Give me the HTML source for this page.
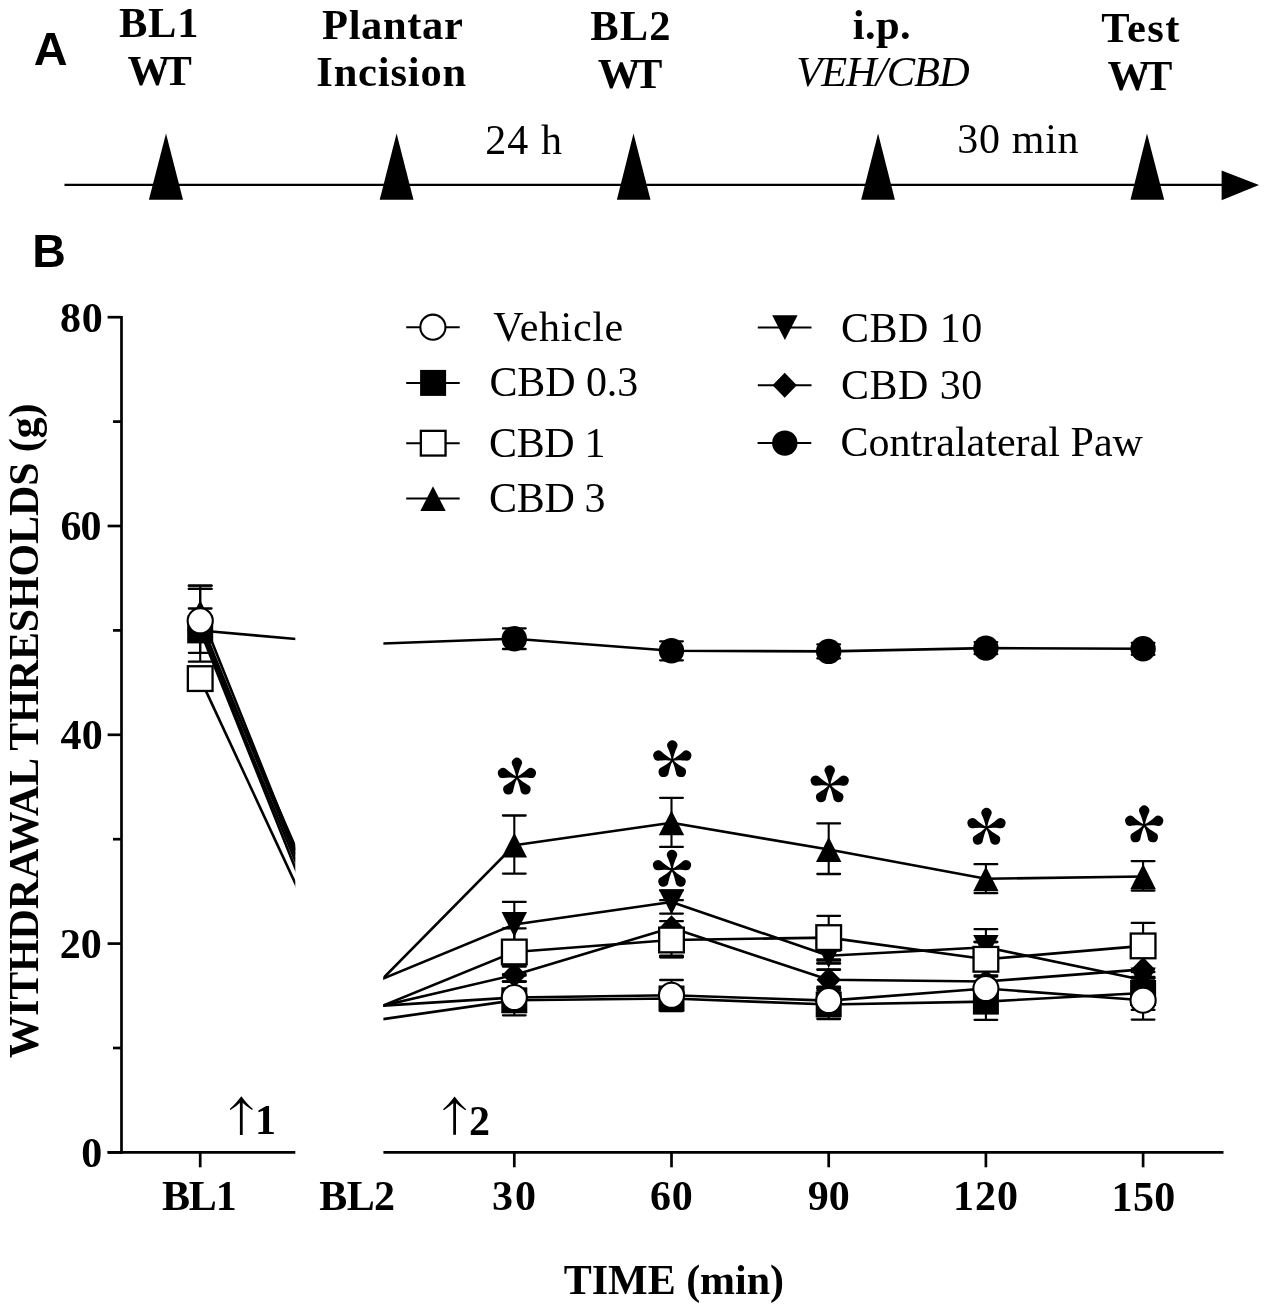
<!DOCTYPE html>
<html><head><meta charset="utf-8"><title>Figure</title>
<style>
html,body{margin:0;padding:0;background:#fff;}
body{width:1267px;height:1314px;overflow:hidden;font-family:"Liberation Serif",serif;}
svg{display:block;filter:grayscale(1) blur(0.4px);}
text{font-kerning:normal;}
</style></head><body>
<svg width="1267" height="1314" viewBox="0 0 1267 1314">
<rect width="100%" height="100%" fill="#fff"/>
<g>
<line x1="64.5" y1="184.9" x2="1224" y2="184.9" stroke="#000" stroke-width="2.4"/>
<path d="M1221.6 170.6L1259 185L1221.6 200.3Z" fill="#000"/>
<path d="M166 133.4L183 199.8L148.9 199.8Z" fill="#000"/>
<path d="M396.6 133.4L413.5 199.8L379.7 199.8Z" fill="#000"/>
<path d="M633.5 133.4L650.5 199.8L616.9 199.8Z" fill="#000"/>
<path d="M878.1 133.4L894.9 199.8L861.2 199.8Z" fill="#000"/>
<path d="M1147 133.4L1164.2 199.8L1130.5 199.8Z" fill="#000"/>
</g>
<text id="t_A" x="33.64" y="65.32" text-anchor="start" style="font-family:'Liberation Sans',serif;font-size:46.8px;font-weight:bold;font-style:normal">A</text>
<text id="t_B" x="32.28" y="267.02" text-anchor="start" style="font-family:'Liberation Sans',serif;font-size:46.5px;font-weight:bold;font-style:normal">B</text>
<text id="t_hBL1" x="118.97" y="37.34" text-anchor="start" style="font-family:'Liberation Serif',serif;font-size:42.5px;font-weight:bold;font-style:normal" textLength="79.43" lengthAdjust="spacing">BL1</text>
<text id="t_hWT1" x="127.56" y="84.89" text-anchor="start" style="font-family:'Liberation Serif',serif;font-size:42.5px;font-weight:bold;font-style:normal" textLength="64.42" lengthAdjust="spacing">WT</text>
<text id="t_hPlantar" x="322.04" y="38.68" text-anchor="start" style="font-family:'Liberation Serif',serif;font-size:42.5px;font-weight:bold;font-style:normal" textLength="140.8" lengthAdjust="spacing">Plantar</text>
<text id="t_hIncision" x="316.3" y="86" text-anchor="start" style="font-family:'Liberation Serif',serif;font-size:42.5px;font-weight:bold;font-style:normal" textLength="149.79" lengthAdjust="spacing">Incision</text>
<text id="t_hBL2" x="590.23" y="39.64" text-anchor="start" style="font-family:'Liberation Serif',serif;font-size:42.5px;font-weight:bold;font-style:normal" textLength="80.23" lengthAdjust="spacing">BL2</text>
<text id="t_hWT2" x="597.81" y="87.89" text-anchor="start" style="font-family:'Liberation Serif',serif;font-size:42.5px;font-weight:bold;font-style:normal" textLength="64.58" lengthAdjust="spacing">WT</text>
<text id="t_hip" x="852.83" y="38.56" text-anchor="start" style="font-family:'Liberation Serif',serif;font-size:42.5px;font-weight:bold;font-style:normal" textLength="57.67" lengthAdjust="spacing">i.p.</text>
<text id="t_hVEH" x="796.16" y="86.19" text-anchor="start" style="font-family:'Liberation Serif',serif;font-size:42.5px;font-weight:normal;font-style:italic" textLength="173.52" lengthAdjust="spacing">VEH/CBD</text>
<text id="t_hTest" x="1101.22" y="42.02" text-anchor="start" style="font-family:'Liberation Serif',serif;font-size:42.5px;font-weight:bold;font-style:normal" textLength="78.15" lengthAdjust="spacing">Test</text>
<text id="t_hWT3" x="1107.55" y="89.57" text-anchor="start" style="font-family:'Liberation Serif',serif;font-size:42.5px;font-weight:bold;font-style:normal" textLength="64.71" lengthAdjust="spacing">WT</text>
<text id="t_h24" x="485.14" y="153.68" text-anchor="start" style="font-family:'Liberation Serif',serif;font-size:42px;font-weight:normal;font-style:normal" textLength="76.87" lengthAdjust="spacing">24 h</text>
<text id="t_h30" x="957.36" y="152.64" text-anchor="start" style="font-family:'Liberation Serif',serif;font-size:42px;font-weight:normal;font-style:normal" textLength="121.14" lengthAdjust="spacing">30 min</text>
<g stroke="#000" fill="none" stroke-width="2.7">
<line x1="121.5" y1="316" x2="121.5" y2="1153.7"/>
<line x1="107.6" y1="1152.4" x2="121.5" y2="1152.4"/>
<line x1="107.6" y1="943.6" x2="121.5" y2="943.6"/>
<line x1="107.6" y1="734.8" x2="121.5" y2="734.8"/>
<line x1="107.6" y1="526" x2="121.5" y2="526"/>
<line x1="107.6" y1="317.2" x2="121.5" y2="317.2"/>
<line x1="113" y1="1048" x2="121.5" y2="1048"/>
<line x1="113" y1="839.2" x2="121.5" y2="839.2"/>
<line x1="113" y1="630.4" x2="121.5" y2="630.4"/>
<line x1="113" y1="421.6" x2="121.5" y2="421.6"/>
<line x1="107.6" y1="1152.4" x2="295.3" y2="1152.4"/>
<line x1="383.4" y1="1152.4" x2="1223.5" y2="1152.4"/>
<line x1="200.2" y1="1152.4" x2="200.2" y2="1167.3"/>
<line x1="514.3" y1="1152.4" x2="514.3" y2="1167.3"/>
<line x1="671.5" y1="1152.4" x2="671.5" y2="1167.3"/>
<line x1="828.7" y1="1152.4" x2="828.7" y2="1167.3"/>
<line x1="985.9" y1="1152.4" x2="985.9" y2="1167.3"/>
<line x1="1143.1" y1="1152.4" x2="1143.1" y2="1167.3"/>
</g>
<text id="t_y80" x="102.72" y="331.64" text-anchor="end" style="font-family:'Liberation Serif',serif;font-size:42px;font-weight:bold;font-style:normal" textLength="42.81" lengthAdjust="spacing">80</text>
<text id="t_y60" x="101.44" y="539.52" text-anchor="end" style="font-family:'Liberation Serif',serif;font-size:42px;font-weight:bold;font-style:normal" textLength="41.06" lengthAdjust="spacing">60</text>
<text id="t_y40" x="102.63" y="748.52" text-anchor="end" style="font-family:'Liberation Serif',serif;font-size:42px;font-weight:bold;font-style:normal" textLength="42.09" lengthAdjust="spacing">40</text>
<text id="t_y20" x="101.76" y="958.28" text-anchor="end" style="font-family:'Liberation Serif',serif;font-size:42px;font-weight:bold;font-style:normal">20</text>
<text id="t_y0" x="102.22" y="1166.56" text-anchor="end" style="font-family:'Liberation Serif',serif;font-size:42px;font-weight:bold;font-style:normal">0</text>
<text id="t_xBL1" x="199.34" y="1210.3" text-anchor="middle" style="font-family:'Liberation Serif',serif;font-size:42px;font-weight:bold;font-style:normal" textLength="74.58" lengthAdjust="spacing">BL1</text>
<text id="t_xBL2" x="357.18" y="1210.3" text-anchor="middle" style="font-family:'Liberation Serif',serif;font-size:42px;font-weight:bold;font-style:normal" textLength="75.77" lengthAdjust="spacing">BL2</text>
<text id="t_x30" x="514.04" y="1210.3" text-anchor="middle" style="font-family:'Liberation Serif',serif;font-size:42px;font-weight:bold;font-style:normal" textLength="43.88" lengthAdjust="spacing">30</text>
<text id="t_x60" x="671.35" y="1210.3" text-anchor="middle" style="font-family:'Liberation Serif',serif;font-size:42px;font-weight:bold;font-style:normal" textLength="42.91" lengthAdjust="spacing">60</text>
<text id="t_x90" x="828.65" y="1210.3" text-anchor="middle" style="font-family:'Liberation Serif',serif;font-size:42px;font-weight:bold;font-style:normal">90</text>
<text id="t_x120" x="985.52" y="1210.3" text-anchor="middle" style="font-family:'Liberation Serif',serif;font-size:42px;font-weight:bold;font-style:normal" textLength="64.87" lengthAdjust="spacing">120</text>
<text id="t_x150" x="1143.41" y="1210.58" text-anchor="middle" style="font-family:'Liberation Serif',serif;font-size:42px;font-weight:bold;font-style:normal" textLength="63.87" lengthAdjust="spacing">150</text>
<text id="t_xtitle" x="673.9" y="1294.37" text-anchor="middle" style="font-family:'Liberation Serif',serif;font-size:42px;font-weight:bold;font-style:normal" textLength="220.16" lengthAdjust="spacing">TIME (min)</text>
<text transform="translate(38 730.7) rotate(-90)" x="0" y="0" text-anchor="middle" style="font-family:'Liberation Serif',serif;font-size:42px;font-weight:bold" textLength="654.6" lengthAdjust="spacing">WITHDRAWAL THRESHOLDS (g)</text>
<g stroke="#000" fill="none"><line x1="241.3" y1="1099.3" x2="241.3" y2="1135" stroke-width="2.8"/></g><path d="M241.3 1096.3 C237.3 1101.3 233.3 1106.3 229.7 1108.9 L230.5 1109.9 C234.3 1107.8 238.3 1104.3 241.3 1101.8 C244.3 1104.3 248.3 1107.8 252.1 1109.9 L252.9 1108.9 C249.3 1106.3 245.3 1101.3 241.3 1096.3 Z" fill="#000"/>
<text id="t_n1" x="254.96" y="1134.32" text-anchor="start" style="font-family:'Liberation Serif',serif;font-size:42px;font-weight:bold;font-style:normal">1</text>
<g stroke="#000" fill="none"><line x1="454.6" y1="1099.6" x2="454.6" y2="1134.8" stroke-width="2.8"/></g><path d="M454.6 1096.6 C450.6 1101.6 446.6 1106.6 443 1109.2 L443.8 1110.2 C447.6 1108.1 451.6 1104.6 454.6 1102.1 C457.6 1104.6 461.6 1108.1 465.4 1110.2 L466.2 1109.2 C462.6 1106.6 458.6 1101.6 454.6 1096.6 Z" fill="#000"/>
<text id="t_n2" x="468.9" y="1134.64" text-anchor="start" style="font-family:'Liberation Serif',serif;font-size:42px;font-weight:bold;font-style:normal">2</text>
<defs><clipPath id="cl"><rect x="122" y="300" width="173.3" height="860"/></clipPath><clipPath id="cr"><rect x="383.4" y="300" width="860" height="860"/></clipPath></defs>
<path d="M660.15 900.2H682.85M660.15 955.7H682.85M660.15 957.3H682.85M817.35 960.7H840.05M817.35 963.4H840.05M817.35 969.8H840.05M817.35 986.7H840.05M817.35 988.5H840.05M502.95 966.4H525.65M502.95 974.2H525.65M502.95 981.6H525.65M974.55 942H997.25M1131.75 976.8H1154.45M1131.75 978.3H1154.45M1131.75 1009.9H1154.45M188.85 585.7H211.55M188.85 588.9H211.55" stroke="#000" stroke-width="2.3" stroke-linecap="round" fill="none"/>
<line x1="200.2" y1="630.5" x2="357.1" y2="644.4" stroke="#000" stroke-width="2.6" clip-path="url(#cl)"/>
<polyline points="357.1,644.4 514.3,638.7 671.5,650.8 828.7,651.4 985.9,648.1 1143.1,648.8" fill="none" stroke="#000" stroke-width="2.6" stroke-linejoin="round" clip-path="url(#cr)"/>
<path d="M200.2 608.5V661.7M514.3 628.4V649M671.5 641.3V660.3M828.7 644.4V658.4M985.9 642.1V654.1M1143.1 642.8V654.8" stroke="#000" stroke-width="2.1" fill="none"/>
<path d="M188.85 608.5H211.55M188.85 661.7H211.55M502.95 628.4H525.65M502.95 649H525.65M660.15 641.3H682.85M660.15 660.3H682.85M817.35 644.4H840.05M817.35 658.4H840.05M974.55 642.1H997.25M974.55 654.1H997.25M1131.75 642.8H1154.45M1131.75 654.8H1154.45" stroke="#000" stroke-width="2.3" stroke-linecap="round" fill="none"/>
<circle cx="200.2" cy="630.5" r="12.7" fill="#000"/>
<circle cx="514.3" cy="638.7" r="12.7" fill="#000"/>
<circle cx="671.5" cy="650.8" r="12.7" fill="#000"/>
<circle cx="828.7" cy="651.4" r="12.7" fill="#000"/>
<circle cx="985.9" cy="648.1" r="12.7" fill="#000"/>
<circle cx="1143.1" cy="648.8" r="12.7" fill="#000"/>
<line x1="200.2" y1="629" x2="357.1" y2="1011.6" stroke="#000" stroke-width="2.6" clip-path="url(#cl)"/>
<polyline points="357.1,1011.6 514.3,975 671.5,927.8 828.7,979.8 985.9,981.5 1143.1,969.4" fill="none" stroke="#000" stroke-width="2.6" stroke-linejoin="round" clip-path="url(#cr)"/>
<path d="M514.3 966.4V981.6M671.5 921.2V934.4M828.7 969.3V988.5M985.9 975.5V987.5M1143.1 969.4V978.3" stroke="#000" stroke-width="2.1" fill="none"/>
<path d="M502.95 966.4H525.65M502.95 981.6H525.65M660.15 921.2H682.85M660.15 934.4H682.85M817.35 969.3H840.05M817.35 988.5H840.05M974.55 975.5H997.25M974.55 987.5H997.25M1131.75 978.3H1154.45" stroke="#000" stroke-width="2.3" stroke-linecap="round" fill="none"/>
<path d="M200.2 616.5L212.35 629L200.2 641.5L188.05 629Z" fill="#000"/>
<path d="M514.3 962.5L526.45 975L514.3 987.5L502.15 975Z" fill="#000"/>
<path d="M671.5 915.3L683.65 927.8L671.5 940.3L659.35 927.8Z" fill="#000"/>
<path d="M828.7 967.3L840.85 979.8L828.7 992.3L816.55 979.8Z" fill="#000"/>
<path d="M985.9 969L998.05 981.5L985.9 994L973.75 981.5Z" fill="#000"/>
<path d="M1143.1 956.9L1155.25 969.4L1143.1 981.9L1130.95 969.4Z" fill="#000"/>
<line x1="200.2" y1="628" x2="357.1" y2="989.2" stroke="#000" stroke-width="2.6" clip-path="url(#cl)"/>
<polyline points="357.1,989.2 514.3,924.5 671.5,902 828.7,955.7 985.9,947.3 1143.1,980" fill="none" stroke="#000" stroke-width="2.6" stroke-linejoin="round" clip-path="url(#cr)"/>
<path d="M514.3 901.9V947.1M671.5 890.4V913.6M828.7 950.7V963.4M985.9 929.2V965.4M1143.1 972V988" stroke="#000" stroke-width="2.1" fill="none"/>
<path d="M502.95 901.9H525.65M502.95 947.1H525.65M660.15 890.4H682.85M660.15 913.6H682.85M817.35 950.7H840.05M817.35 963.4H840.05M974.55 929.2H997.25M974.55 965.4H997.25M1131.75 972H1154.45M1131.75 988H1154.45" stroke="#000" stroke-width="2.3" stroke-linecap="round" fill="none"/>
<path d="M187.5 615.6L212.9 615.6L200.2 640.4Z" fill="#000"/>
<path d="M501.6 912.1L527 912.1L514.3 936.9Z" fill="#000"/>
<path d="M658.8 889.6L684.2 889.6L671.5 914.4Z" fill="#000"/>
<path d="M816 943.3L841.4 943.3L828.7 968.1Z" fill="#000"/>
<path d="M973.2 934.9L998.6 934.9L985.9 959.7Z" fill="#000"/>
<path d="M1130.4 967.6L1155.8 967.6L1143.1 992.4Z" fill="#000"/>
<line x1="200.2" y1="612.6" x2="357.1" y2="1004.7" stroke="#000" stroke-width="2.6" clip-path="url(#cl)"/>
<polyline points="357.1,1004.7 514.3,845.2 671.5,822.8 828.7,849.5 985.9,878.8 1143.1,876.5" fill="none" stroke="#000" stroke-width="2.6" stroke-linejoin="round" clip-path="url(#cr)"/>
<path d="M200.2 585.7V639.5M514.3 815.5V873.6M671.5 797.8V846.9M828.7 823.4V874M985.9 864.2V893.2M1143.1 861.2V890.5" stroke="#000" stroke-width="2.1" fill="none"/>
<path d="M188.85 585.7H211.55M188.85 639.5H211.55M502.95 815.5H525.65M502.95 873.6H525.65M660.15 797.8H682.85M660.15 846.9H682.85M817.35 823.4H840.05M817.35 874H840.05M974.55 864.2H997.25M974.55 893.2H997.25M1131.75 861.2H1154.45M1131.75 890.5H1154.45" stroke="#000" stroke-width="2.3" stroke-linecap="round" fill="none"/>
<path d="M200.2 600.2L212.9 625L187.5 625Z" fill="#000"/>
<path d="M514.3 832.8L527 857.6L501.6 857.6Z" fill="#000"/>
<path d="M671.5 810.4L684.2 835.2L658.8 835.2Z" fill="#000"/>
<path d="M828.7 837.1L841.4 861.9L816 861.9Z" fill="#000"/>
<path d="M985.9 866.4L998.6 891.2L973.2 891.2Z" fill="#000"/>
<path d="M1143.1 864.1L1155.8 888.9L1130.4 888.9Z" fill="#000"/>
<line x1="200.2" y1="678.6" x2="357.1" y2="1016.3" stroke="#000" stroke-width="2.6" clip-path="url(#cl)"/>
<polyline points="357.1,1016.3 514.3,952 671.5,940 828.7,937.6 985.9,959.3 1143.1,945.9" fill="none" stroke="#000" stroke-width="2.6" stroke-linejoin="round" clip-path="url(#cr)"/>
<path d="M514.3 928.3V975.7M671.5 940V957M828.7 915.8V959.4M985.9 942V976.6M1143.1 922.9V945.9" stroke="#000" stroke-width="2.1" fill="none"/>
<path d="M502.95 928.3H525.65M502.95 975.7H525.65M660.15 957H682.85M817.35 915.8H840.05M817.35 959.4H840.05M974.55 942H997.25M974.55 976.6H997.25M1131.75 922.9H1154.45" stroke="#000" stroke-width="2.3" stroke-linecap="round" fill="none"/>
<rect x="187.85" y="666.25" width="24.7" height="24.7" fill="#fff" stroke="#000" stroke-width="2.3"/>
<rect x="501.95" y="939.65" width="24.7" height="24.7" fill="#fff" stroke="#000" stroke-width="2.3"/>
<rect x="659.15" y="927.65" width="24.7" height="24.7" fill="#fff" stroke="#000" stroke-width="2.3"/>
<rect x="816.35" y="925.25" width="24.7" height="24.7" fill="#fff" stroke="#000" stroke-width="2.3"/>
<rect x="973.55" y="946.95" width="24.7" height="24.7" fill="#fff" stroke="#000" stroke-width="2.3"/>
<rect x="1130.75" y="933.55" width="24.7" height="24.7" fill="#fff" stroke="#000" stroke-width="2.3"/>
<line x1="200.2" y1="630.4" x2="357.1" y2="1022.9" stroke="#000" stroke-width="2.6" clip-path="url(#cl)"/>
<polyline points="357.1,1022.9 514.3,1000.3 671.5,998.5 828.7,1004.5 985.9,1001.6 1143.1,993" fill="none" stroke="#000" stroke-width="2.6" stroke-linejoin="round" clip-path="url(#cr)"/>
<path d="M514.3 1000.3V1015.3M671.5 998.5V1011M828.7 1004.5V1019M985.9 1001.6V1019.8M1143.1 993V1003" stroke="#000" stroke-width="2.1" fill="none"/>
<path d="M502.95 1015.3H525.65M660.15 1011H682.85M817.35 1019H840.05M974.55 1019.8H997.25M1131.75 1003H1154.45" stroke="#000" stroke-width="2.3" stroke-linecap="round" fill="none"/>
<rect x="187.2" y="617.4" width="26" height="26" fill="#000"/>
<rect x="501.3" y="987.3" width="26" height="26" fill="#000"/>
<rect x="658.5" y="985.5" width="26" height="26" fill="#000"/>
<rect x="815.7" y="991.5" width="26" height="26" fill="#000"/>
<rect x="972.9" y="988.6" width="26" height="26" fill="#000"/>
<rect x="1130.1" y="980" width="26" height="26" fill="#000"/>
<line x1="200.2" y1="620.85" x2="357.1" y2="1007.2" stroke="#000" stroke-width="2.6" clip-path="url(#cl)"/>
<polyline points="357.1,1007.2 514.3,997.5 671.5,995.3 828.7,1000.6 985.9,988.5 1143.1,1000.2" fill="none" stroke="#000" stroke-width="2.6" stroke-linejoin="round" clip-path="url(#cr)"/>
<path d="M200.2 588.85V652.85M514.3 981.5V997.5M671.5 980V1010.6M828.7 990.6V1000.6M985.9 988.5V988.5M1143.1 980.8V1019.6" stroke="#000" stroke-width="2.1" fill="none"/>
<path d="M188.85 588.85H211.55M188.85 652.85H211.55M502.95 981.5H525.65M660.15 980H682.85M660.15 1010.6H682.85M817.35 990.6H840.05M1131.75 980.8H1154.45M1131.75 1019.6H1154.45" stroke="#000" stroke-width="2.3" stroke-linecap="round" fill="none"/>
<circle cx="200.2" cy="620.85" r="12.55" fill="#fff" stroke="#000" stroke-width="2.1"/>
<circle cx="514.3" cy="997.5" r="12.55" fill="#fff" stroke="#000" stroke-width="2.1"/>
<circle cx="671.5" cy="995.3" r="12.55" fill="#fff" stroke="#000" stroke-width="2.1"/>
<circle cx="828.7" cy="1000.6" r="12.55" fill="#fff" stroke="#000" stroke-width="2.1"/>
<circle cx="985.9" cy="988.5" r="12.55" fill="#fff" stroke="#000" stroke-width="2.1"/>
<circle cx="1143.1" cy="1000.2" r="12.55" fill="#fff" stroke="#000" stroke-width="2.1"/>
<g fill="#000"><path transform="translate(516.9 777.5) rotate(0)" d="M-0.75 0C-1.2 -5 -3.2 -9.3 -4.4 -12.1 A5.1 5.1 0 1 1 4.4 -12.1 C3.2 -9.3 1.2 -5 0.75 0Z"/><path transform="translate(516.9 777.5) rotate(72)" d="M-0.75 0C-1.2 -5 -3.2 -9.3 -4.4 -12.1 A5.1 5.1 0 1 1 4.4 -12.1 C3.2 -9.3 1.2 -5 0.75 0Z"/><path transform="translate(516.9 777.5) rotate(144)" d="M-0.75 0C-1.2 -5 -3.2 -9.3 -4.4 -12.1 A5.1 5.1 0 1 1 4.4 -12.1 C3.2 -9.3 1.2 -5 0.75 0Z"/><path transform="translate(516.9 777.5) rotate(216)" d="M-0.75 0C-1.2 -5 -3.2 -9.3 -4.4 -12.1 A5.1 5.1 0 1 1 4.4 -12.1 C3.2 -9.3 1.2 -5 0.75 0Z"/><path transform="translate(516.9 777.5) rotate(288)" d="M-0.75 0C-1.2 -5 -3.2 -9.3 -4.4 -12.1 A5.1 5.1 0 1 1 4.4 -12.1 C3.2 -9.3 1.2 -5 0.75 0Z"/><circle cx="516.9" cy="777.5" r="1.7"/></g>
<g fill="#000"><path transform="translate(672.3 760.1) rotate(0)" d="M-0.75 0C-1.2 -5 -3.2 -9.3 -4.4 -12.1 A5.1 5.1 0 1 1 4.4 -12.1 C3.2 -9.3 1.2 -5 0.75 0Z"/><path transform="translate(672.3 760.1) rotate(72)" d="M-0.75 0C-1.2 -5 -3.2 -9.3 -4.4 -12.1 A5.1 5.1 0 1 1 4.4 -12.1 C3.2 -9.3 1.2 -5 0.75 0Z"/><path transform="translate(672.3 760.1) rotate(144)" d="M-0.75 0C-1.2 -5 -3.2 -9.3 -4.4 -12.1 A5.1 5.1 0 1 1 4.4 -12.1 C3.2 -9.3 1.2 -5 0.75 0Z"/><path transform="translate(672.3 760.1) rotate(216)" d="M-0.75 0C-1.2 -5 -3.2 -9.3 -4.4 -12.1 A5.1 5.1 0 1 1 4.4 -12.1 C3.2 -9.3 1.2 -5 0.75 0Z"/><path transform="translate(672.3 760.1) rotate(288)" d="M-0.75 0C-1.2 -5 -3.2 -9.3 -4.4 -12.1 A5.1 5.1 0 1 1 4.4 -12.1 C3.2 -9.3 1.2 -5 0.75 0Z"/><circle cx="672.3" cy="760.1" r="1.7"/></g>
<g fill="#000"><path transform="translate(672 869.7) rotate(0)" d="M-0.75 0C-1.2 -5 -3.2 -9.3 -4.4 -12.1 A5.1 5.1 0 1 1 4.4 -12.1 C3.2 -9.3 1.2 -5 0.75 0Z"/><path transform="translate(672 869.7) rotate(72)" d="M-0.75 0C-1.2 -5 -3.2 -9.3 -4.4 -12.1 A5.1 5.1 0 1 1 4.4 -12.1 C3.2 -9.3 1.2 -5 0.75 0Z"/><path transform="translate(672 869.7) rotate(144)" d="M-0.75 0C-1.2 -5 -3.2 -9.3 -4.4 -12.1 A5.1 5.1 0 1 1 4.4 -12.1 C3.2 -9.3 1.2 -5 0.75 0Z"/><path transform="translate(672 869.7) rotate(216)" d="M-0.75 0C-1.2 -5 -3.2 -9.3 -4.4 -12.1 A5.1 5.1 0 1 1 4.4 -12.1 C3.2 -9.3 1.2 -5 0.75 0Z"/><path transform="translate(672 869.7) rotate(288)" d="M-0.75 0C-1.2 -5 -3.2 -9.3 -4.4 -12.1 A5.1 5.1 0 1 1 4.4 -12.1 C3.2 -9.3 1.2 -5 0.75 0Z"/><circle cx="672" cy="869.7" r="1.7"/></g>
<g fill="#000"><path transform="translate(829.7 785.2) rotate(0)" d="M-0.75 0C-1.2 -5 -3.2 -9.3 -4.4 -12.1 A5.1 5.1 0 1 1 4.4 -12.1 C3.2 -9.3 1.2 -5 0.75 0Z"/><path transform="translate(829.7 785.2) rotate(72)" d="M-0.75 0C-1.2 -5 -3.2 -9.3 -4.4 -12.1 A5.1 5.1 0 1 1 4.4 -12.1 C3.2 -9.3 1.2 -5 0.75 0Z"/><path transform="translate(829.7 785.2) rotate(144)" d="M-0.75 0C-1.2 -5 -3.2 -9.3 -4.4 -12.1 A5.1 5.1 0 1 1 4.4 -12.1 C3.2 -9.3 1.2 -5 0.75 0Z"/><path transform="translate(829.7 785.2) rotate(216)" d="M-0.75 0C-1.2 -5 -3.2 -9.3 -4.4 -12.1 A5.1 5.1 0 1 1 4.4 -12.1 C3.2 -9.3 1.2 -5 0.75 0Z"/><path transform="translate(829.7 785.2) rotate(288)" d="M-0.75 0C-1.2 -5 -3.2 -9.3 -4.4 -12.1 A5.1 5.1 0 1 1 4.4 -12.1 C3.2 -9.3 1.2 -5 0.75 0Z"/><circle cx="829.7" cy="785.2" r="1.7"/></g>
<g fill="#000"><path transform="translate(986.5 827.7) rotate(0)" d="M-0.75 0C-1.2 -5 -3.2 -9.3 -4.4 -12.1 A5.1 5.1 0 1 1 4.4 -12.1 C3.2 -9.3 1.2 -5 0.75 0Z"/><path transform="translate(986.5 827.7) rotate(72)" d="M-0.75 0C-1.2 -5 -3.2 -9.3 -4.4 -12.1 A5.1 5.1 0 1 1 4.4 -12.1 C3.2 -9.3 1.2 -5 0.75 0Z"/><path transform="translate(986.5 827.7) rotate(144)" d="M-0.75 0C-1.2 -5 -3.2 -9.3 -4.4 -12.1 A5.1 5.1 0 1 1 4.4 -12.1 C3.2 -9.3 1.2 -5 0.75 0Z"/><path transform="translate(986.5 827.7) rotate(216)" d="M-0.75 0C-1.2 -5 -3.2 -9.3 -4.4 -12.1 A5.1 5.1 0 1 1 4.4 -12.1 C3.2 -9.3 1.2 -5 0.75 0Z"/><path transform="translate(986.5 827.7) rotate(288)" d="M-0.75 0C-1.2 -5 -3.2 -9.3 -4.4 -12.1 A5.1 5.1 0 1 1 4.4 -12.1 C3.2 -9.3 1.2 -5 0.75 0Z"/><circle cx="986.5" cy="827.7" r="1.7"/></g>
<g fill="#000"><path transform="translate(1144.2 825.3) rotate(0)" d="M-0.75 0C-1.2 -5 -3.2 -9.3 -4.4 -12.1 A5.1 5.1 0 1 1 4.4 -12.1 C3.2 -9.3 1.2 -5 0.75 0Z"/><path transform="translate(1144.2 825.3) rotate(72)" d="M-0.75 0C-1.2 -5 -3.2 -9.3 -4.4 -12.1 A5.1 5.1 0 1 1 4.4 -12.1 C3.2 -9.3 1.2 -5 0.75 0Z"/><path transform="translate(1144.2 825.3) rotate(144)" d="M-0.75 0C-1.2 -5 -3.2 -9.3 -4.4 -12.1 A5.1 5.1 0 1 1 4.4 -12.1 C3.2 -9.3 1.2 -5 0.75 0Z"/><path transform="translate(1144.2 825.3) rotate(216)" d="M-0.75 0C-1.2 -5 -3.2 -9.3 -4.4 -12.1 A5.1 5.1 0 1 1 4.4 -12.1 C3.2 -9.3 1.2 -5 0.75 0Z"/><path transform="translate(1144.2 825.3) rotate(288)" d="M-0.75 0C-1.2 -5 -3.2 -9.3 -4.4 -12.1 A5.1 5.1 0 1 1 4.4 -12.1 C3.2 -9.3 1.2 -5 0.75 0Z"/><circle cx="1144.2" cy="825.3" r="1.7"/></g>
<line x1="406.2" y1="327.2" x2="459.7" y2="327.2" stroke="#000" stroke-width="2.0"/>
<circle cx="432.9" cy="327.2" r="12.55" fill="#fff" stroke="#000" stroke-width="2.1"/>
<line x1="406.2" y1="382.9" x2="459.7" y2="382.9" stroke="#000" stroke-width="2.0"/>
<rect x="420.1" y="369.9" width="26" height="26" fill="#000"/>
<line x1="406.2" y1="443.2" x2="459.7" y2="443.2" stroke="#000" stroke-width="2.0"/>
<rect x="420.85" y="430.85" width="24.7" height="24.7" fill="#fff" stroke="#000" stroke-width="2.3"/>
<line x1="406.2" y1="498.6" x2="459.7" y2="498.6" stroke="#000" stroke-width="2.0"/>
<path d="M433 486.2L445.7 511L420.3 511Z" fill="#000"/>
<line x1="757.8" y1="327.6" x2="811.5" y2="327.6" stroke="#000" stroke-width="2.0"/>
<path d="M772.2 315.2L797.6 315.2L784.9 340Z" fill="#000"/>
<line x1="757.8" y1="385.3" x2="811.5" y2="385.3" stroke="#000" stroke-width="2.0"/>
<path d="M784.7 372.8L796.85 385.3L784.7 397.8L772.55 385.3Z" fill="#000"/>
<line x1="757.6" y1="443.1" x2="811.3" y2="443.1" stroke="#000" stroke-width="2.0"/>
<circle cx="784.8" cy="443.1" r="12.7" fill="#000"/>
<text id="t_lVeh" x="493.31" y="341.1" text-anchor="start" style="font-family:'Liberation Serif',serif;font-size:42px;font-weight:normal;font-style:normal" textLength="129.85" lengthAdjust="spacing">Vehicle</text>
<text id="t_l03" x="489.46" y="396.34" text-anchor="start" style="font-family:'Liberation Serif',serif;font-size:42px;font-weight:normal;font-style:normal" textLength="148.75" lengthAdjust="spacing">CBD 0.3</text>
<text id="t_l1" x="488.99" y="457.32" text-anchor="start" style="font-family:'Liberation Serif',serif;font-size:42px;font-weight:normal;font-style:normal" textLength="116.42" lengthAdjust="spacing">CBD 1</text>
<text id="t_l3" x="489.04" y="512.36" text-anchor="start" style="font-family:'Liberation Serif',serif;font-size:42px;font-weight:normal;font-style:normal" textLength="116.52" lengthAdjust="spacing">CBD 3</text>
<text id="t_l10" x="840.94" y="341.64" text-anchor="start" style="font-family:'Liberation Serif',serif;font-size:42px;font-weight:normal;font-style:normal" textLength="141.34" lengthAdjust="spacing">CBD 10</text>
<text id="t_l30" x="840.94" y="398.66" text-anchor="start" style="font-family:'Liberation Serif',serif;font-size:42px;font-weight:normal;font-style:normal" textLength="141.34" lengthAdjust="spacing">CBD 30</text>
<text id="t_lContra" x="840.42" y="456.32" text-anchor="start" style="font-family:'Liberation Serif',serif;font-size:42px;font-weight:normal;font-style:normal" textLength="302.51" lengthAdjust="spacing">Contralateral Paw</text>
</svg>
</body></html>
